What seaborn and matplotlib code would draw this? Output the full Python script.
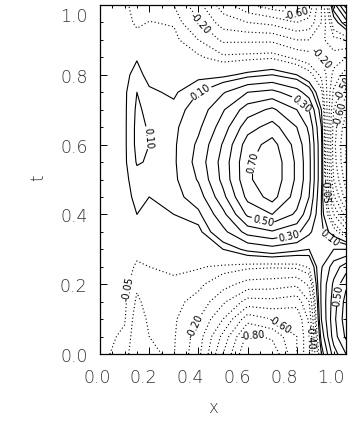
import numpy as np
import matplotlib
matplotlib.use("Agg")
import matplotlib.pyplot as plt
from matplotlib.transforms import ScaledTranslation
import seaborn as sns

# ---- data (grid of u(x, t)) ----
x_nodes = [0.0, 0.1, 0.15, 0.2, 0.3, 0.4, 0.5, 0.6, 0.7, 0.8, 0.85, 0.9, 0.95, 1.0]
t_nodes = [0.0, 0.05, 0.1, 0.15, 0.2, 0.25, 0.3, 0.35, 0.4, 0.45, 0.5,
           0.55, 0.6, 0.65, 0.7, 0.75, 0.8, 0.85, 0.9, 0.95, 1.0]

# each list: values along t (bottom to top) at a fixed x
u_x000 = [-0.03, -0.03, -0.03, -0.03, -0.02, -0.01, 0.00, 0.00, 0.01, 0.02, 0.02, 0.02, 0.02, 0.02, 0.02, 0.02, 0.01, 0.00, -0.01, -0.02, -0.02]
u_x010 = [-0.08, -0.06, -0.045, -0.04, -0.03, -0.02, -0.01, 0.00, 0.02, 0.03, 0.035, 0.04, 0.04, 0.04, 0.04, 0.04, 0.035, 0.02, 0.00, -0.03, -0.04]
u_x015 = [-0.14, -0.14, -0.13, -0.11, -0.09, -0.06, -0.03, 0.02, 0.05, 0.065, 0.08, 0.105, 0.115, 0.115, 0.11, 0.10, 0.07, 0.045, -0.03, -0.06, -0.07]
u_x020 = [-0.105, -0.10, -0.09, -0.08, -0.065, -0.05, -0.03, 0.00, 0.03, 0.05, 0.08, 0.095, 0.10, 0.095, 0.085, 0.06, 0.03, 0.01, -0.03, -0.048, -0.08]
u_x030 = [-0.095, -0.09, -0.085, -0.075, -0.06, -0.04, -0.02, 0.02, 0.05, 0.065, 0.08, 0.085, 0.085, 0.08, 0.065, 0.04, 0.01, -0.02, -0.035, -0.055, -0.10]
u_x040 = [-0.27, -0.25, -0.20, -0.13, -0.08, -0.045, -0.01, 0.03, 0.08, 0.15, 0.21, 0.24, 0.22, 0.18, 0.14, 0.10, 0.03, -0.04, -0.10, -0.19, -0.27]
u_x050 = [-0.60, -0.53, -0.40, -0.28, -0.16, -0.06, 0.05, 0.17, 0.27, 0.37, 0.43, 0.44, 0.41, 0.35, 0.29, 0.19, 0.03, -0.08, -0.22, -0.35, -0.45]
u_x060 = [-0.90, -0.83, -0.66, -0.44, -0.24, -0.08, 0.12, 0.34, 0.52, 0.63, 0.68, 0.68, 0.65, 0.56, 0.45, 0.30, 0.07, -0.07, -0.22, -0.40, -0.58]
u_x070 = [-0.88, -0.78, -0.60, -0.43, -0.25, -0.09, 0.16, 0.39, 0.60, 0.74, 0.78, 0.78, 0.74, 0.64, 0.52, 0.33, 0.10, -0.06, -0.22, -0.43, -0.66]
u_x080 = [-0.60, -0.60, -0.58, -0.46, -0.28, -0.08, 0.12, 0.33, 0.48, 0.55, 0.58, 0.58, 0.56, 0.50, 0.40, 0.24, 0.05, -0.12, -0.30, -0.50, -0.68]
u_x085 = [-0.42, -0.42, -0.38, -0.30, -0.18, -0.04, 0.10, 0.22, 0.33, 0.40, 0.43, 0.43, 0.42, 0.38, 0.30, 0.15, -0.02, -0.15, -0.30, -0.47, -0.58]
u_x090 = [0.05, 0.14, 0.20, 0.22, 0.22, 0.19, 0.15, 0.12, 0.10, 0.10, 0.12, 0.12, 0.12, 0.10, 0.05, -0.03, -0.12, -0.20, -0.23, -0.30, -0.30]
u_x095 = [0.35, 0.45, 0.47, 0.45, 0.42, 0.35, 0.20, 0.00, -0.20, -0.38, -0.50, -0.55, -0.57, -0.55, -0.50, -0.42, -0.33, -0.25, -0.12, 0.00, 0.15]
u_x100 = [0.50, 0.62, 0.66, 0.64, 0.58, 0.45, 0.20, -0.15, -0.45, -0.65, -0.75, -0.80, -0.80, -0.76, -0.68, -0.58, -0.45, -0.30, -0.10, 0.15, 0.45]

neg_levels = [-0.8, -0.7, -0.6, -0.5, -0.4, -0.3, -0.2, -0.1, -0.05]
pos_levels = [0.05, 0.1, 0.2, 0.3, 0.4, 0.5, 0.6, 0.7]
tick_values = [0.0, 0.2, 0.4, 0.6, 0.8, 1.0]
tick_labels = ["0.0", "0.2", "0.4", "0.6", "0.8", "1.0"]

# where the reference puts its contour labels (x, t)
pos_label_spots = [(0.41, 0.75), (0.20, 0.62), (0.62, 0.55), (0.66, 0.375),
                   (0.77, 0.33), (0.815, 0.715), (0.972, 0.17), (0.93, 0.33)]
neg_label_spots = [(0.41, 0.95), (0.80, 0.97), (0.91, 0.87), (0.975, 0.77),
                   (0.975, 0.69), (0.912, 0.47), (0.11, 0.19), (0.39, 0.08),
                   (0.62, 0.05), (0.74, 0.095), (0.845, 0.05)]

# ---- figure ----
sns.set_theme(style="ticks")
plt.rcParams["font.family"] = ["DejaVu Sans"]
plt.rcParams["axes.unicode_minus"] = False

columns = [u_x000, u_x010, u_x015, u_x020, u_x030, u_x040, u_x050, u_x060,
           u_x070, u_x080, u_x085, u_x090, u_x095, u_x100]
U = np.array(columns).T  # shape (len(t), len(x))
X, T = np.meshgrid(x_nodes, t_nodes)

fig = plt.figure(figsize=(3.63, 4.27), dpi=100)
ax = fig.add_axes([100 / 363, 1 - 355 / 427, 246 / 363, 349 / 427])
ax.set_facecolor("white")
ax.set_xlim(0, 1)
ax.set_ylim(0, 1)

cn = ax.contour(X, T, U, levels=neg_levels, colors="black",
                linewidths=0.8, linestyles=[(0, (1, 2.2))])
cp = ax.contour(X, T, U, levels=pos_levels, colors="black",
                linewidths=0.8, linestyles="solid")
ax.clabel(cn, fmt="%.2f", fontsize=7, inline=True, inline_spacing=1,
          manual=neg_label_spots)
ax.clabel(cp, fmt="%.2f", fontsize=7, inline=True, inline_spacing=1,
          manual=pos_label_spots)

ax.set_xticks(tick_values)
ax.set_xticklabels(tick_labels)
ax.set_yticks(tick_values)
ax.set_yticklabels(tick_labels)
ax.set_xticks(np.arange(0, 1.0001, 0.05), minor=True)
ax.set_yticks(np.arange(0, 1.0001, 0.05), minor=True)
ax.tick_params(which="both", direction="in", top=True, right=True,
               colors="black", width=0.7)
ax.tick_params(which="major", length=5)
ax.tick_params(which="minor", length=2.5)
ax.tick_params(axis="x", which="major", pad=10, labelsize=12.5, labelcolor="#333333")
ax.tick_params(axis="y", which="major", pad=9, labelsize=12.5, labelcolor="#333333")
xlabs = ax.get_xticklabels()
ylabs = ax.get_yticklabels()
for i, lab in enumerate(xlabs):
    lab.set_fontweight(200)
    lab.set_transform(lab.get_transform() +
                      ScaledTranslation(-(3 + 2.4 * i) / 100, 0, fig.dpi_scale_trans))
for lab in ylabs:
    lab.set_fontweight(200)
ylabs[-1].set_transform(ylabs[-1].get_transform() +
                        ScaledTranslation(0, -9 / 100, fig.dpi_scale_trans))
for s in ax.spines.values():
    s.set_linewidth(0.9)
    s.set_color("black")

fig.text(213 / 363, 1 - 408 / 427, "x", ha="center", va="center",
         fontsize=12, color="#333333", fontweight=200)
fig.text(38 / 363, 1 - 178 / 427, "t", ha="center", va="center",
         fontsize=12, color="#333333", rotation=90, fontweight=200)

fig.savefig("out.png", dpi=100, facecolor="white")
